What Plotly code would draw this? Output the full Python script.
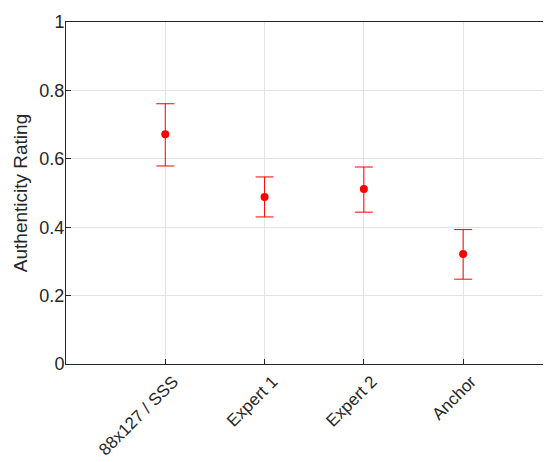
import plotly.graph_objects as go

categories = ["88x127 / SSS", "Expert 1", "Expert 2", "Anchor"]
means = [0.672, 0.488, 0.512, 0.322]
upper = [0.761, 0.547, 0.576, 0.393]
lower = [0.579, 0.430, 0.444, 0.248]
positions = [1, 2, 3, 4]

err_plus = [u - m for u, m in zip(upper, means)]
err_minus = [m - l for m, l in zip(means, lower)]

fig = go.Figure()
fig.add_trace(go.Scatter(
    x=positions, y=means, mode="markers",
    marker=dict(color="#ff0000", size=8),
    error_y=dict(type="data", symmetric=False, array=err_plus, arrayminus=err_minus,
                 color="#ff0000", thickness=1, width=9),
    showlegend=False,
))

axis_col = "#262626"
fig.update_layout(
    width=543, height=454,
    margin=dict(l=58, r=0, t=14, b=98),
    paper_bgcolor="white", plot_bgcolor="white",
    font=dict(family="Liberation Sans, Arial, Helvetica, sans-serif", color=axis_col, size=18),
    xaxis=dict(
        range=[0, 4.885], tickmode="array", tickvals=positions, ticktext=categories,
        tickangle=-45, showgrid=True, gridcolor="#e3e3e3", gridwidth=1,
        showline=True, linecolor=axis_col, linewidth=1, mirror=True,
        ticks="inside", ticklen=5, tickcolor=axis_col, zeroline=False,
        tickfont=dict(size=17), automargin=False, ticklabelshift=8,
    ),
    yaxis=dict(
        range=[0, 1], tickmode="array", tickvals=[0, 0.2, 0.4, 0.6, 0.8, 1],
        ticktext=["0", "0.2", "0.4", "0.6", "0.8", "1"],
        showgrid=True, gridcolor="#e3e3e3", gridwidth=1,
        showline=True, linecolor=axis_col, linewidth=1,
        ticks="inside", ticklen=5, tickcolor=axis_col, zeroline=False,
        title=dict(text="Authenticity Rating", font=dict(size=19), standoff=6),
        tickfont=dict(size=18), automargin=False, ticklabelstandoff=-3,
    ),
)

fig.write_html("out.html")
